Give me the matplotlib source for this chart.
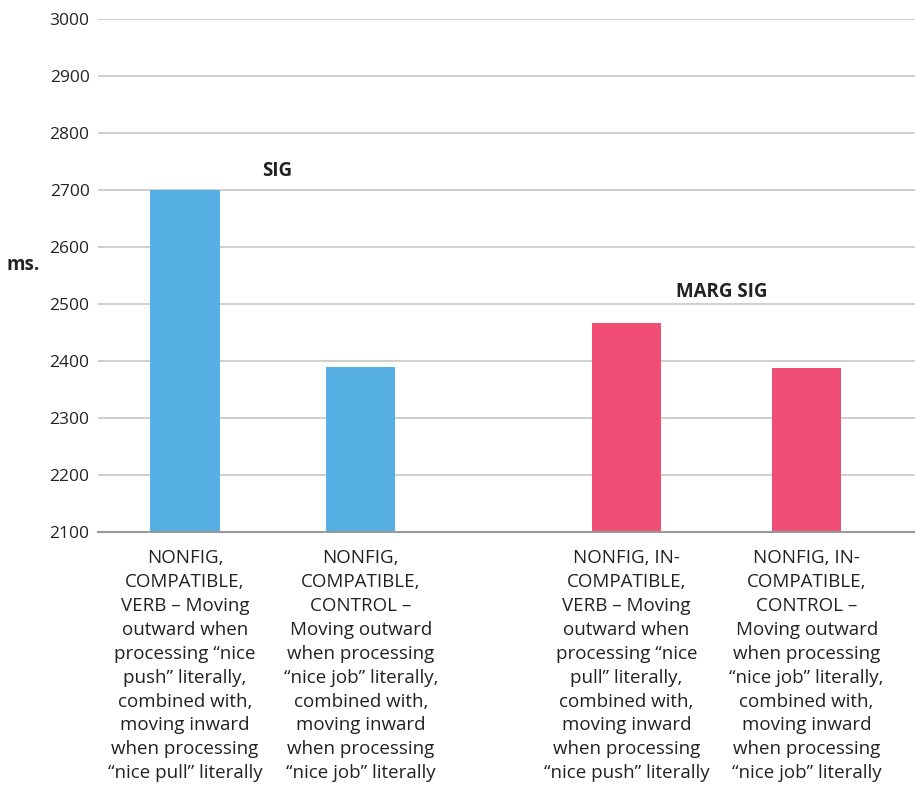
import matplotlib.pyplot as plt
import matplotlib.transforms as mtransforms

plt.rcParams['font.family'] = ['Open Sans', 'DejaVu Sans']

# Mean response times (ms.) per condition
conditions = [
    "NONFIG,\nCOMPATIBLE,\nVERB \u2013 Moving\noutward when\nprocessing \u201cnice\npush\u201d literally,\ncombined with,\nmoving inward\nwhen processing\n\u201cnice pull\u201d literally",
    "NONFIG,\nCOMPATIBLE,\nCONTROL \u2013\nMoving outward\nwhen processing\n\u201cnice job\u201d literally,\ncombined with,\nmoving inward\nwhen processing\n\u201cnice job\u201d literally",
    "NONFIG, IN-\nCOMPATIBLE,\nVERB \u2013 Moving\noutward when\nprocessing \u201cnice\npull\u201d literally,\ncombined with,\nmoving inward\nwhen processing\n\u201cnice push\u201d literally",
    "NONFIG, IN-\nCOMPATIBLE,\nCONTROL \u2013\nMoving outward\nwhen processing\n\u201cnice job\u201d literally,\ncombined with,\nmoving inward\nwhen processing\n\u201cnice job\u201d literally",
]
times = [2700, 2390, 2467, 2388]
positions = [0, 0.99, 2.485, 3.50]
colors = ["#56B0E3", "#56B0E3", "#F04E75", "#F04E75"]
yticks = [2100, 2200, 2300, 2400, 2500, 2600, 2700, 2800, 2900, 3000]

fig = plt.figure(figsize=(9.15, 7.95), dpi=100)
ax = fig.add_axes([0.107, 0.331, 0.893, 0.645])

ax.bar(positions, times, width=0.39, color=colors, zorder=3)

ax.set_ylim(2100, 3000)
ax.set_xlim(-0.49, 4.11)
ax.set_yticks(yticks)
ax.set_yticklabels([str(t) for t in yticks], fontsize=12.5, color="#222222")
ax.set_xticks([])
ax.tick_params(axis="y", length=0, pad=6)
ax.yaxis.grid(True, color="#cccccc", linewidth=1.3, zorder=0)
for side in ["top", "right", "left"]:
    ax.spines[side].set_visible(False)
ax.spines["bottom"].set_color("#999999")
ax.spines["bottom"].set_linewidth(1.5)
ax.spines["bottom"].set_zorder(4)

# condition descriptions under each bar
trans = mtransforms.blended_transform_factory(ax.transData, ax.transAxes)
for x, label in zip(positions, conditions):
    ax.text(x, -0.034, label, transform=trans, ha="center", va="top",
            fontsize=13.5, linespacing=1.42, color="#222222")

ax.text(0.52, 2733, "SIG", ha="center", va="center", fontsize=13.5,
        fontweight="bold", color="#222222")
ax.text(3.02, 2521, "MARG SIG", ha="center", va="center", fontsize=13.5,
        fontweight="bold", color="#222222")

ax.set_ylabel("ms.", rotation=0, fontsize=13.5, fontweight="bold",
              color="#222222")
ax.yaxis.set_label_coords(-0.091, 0.5)

fig.savefig("out.png", dpi=100)
